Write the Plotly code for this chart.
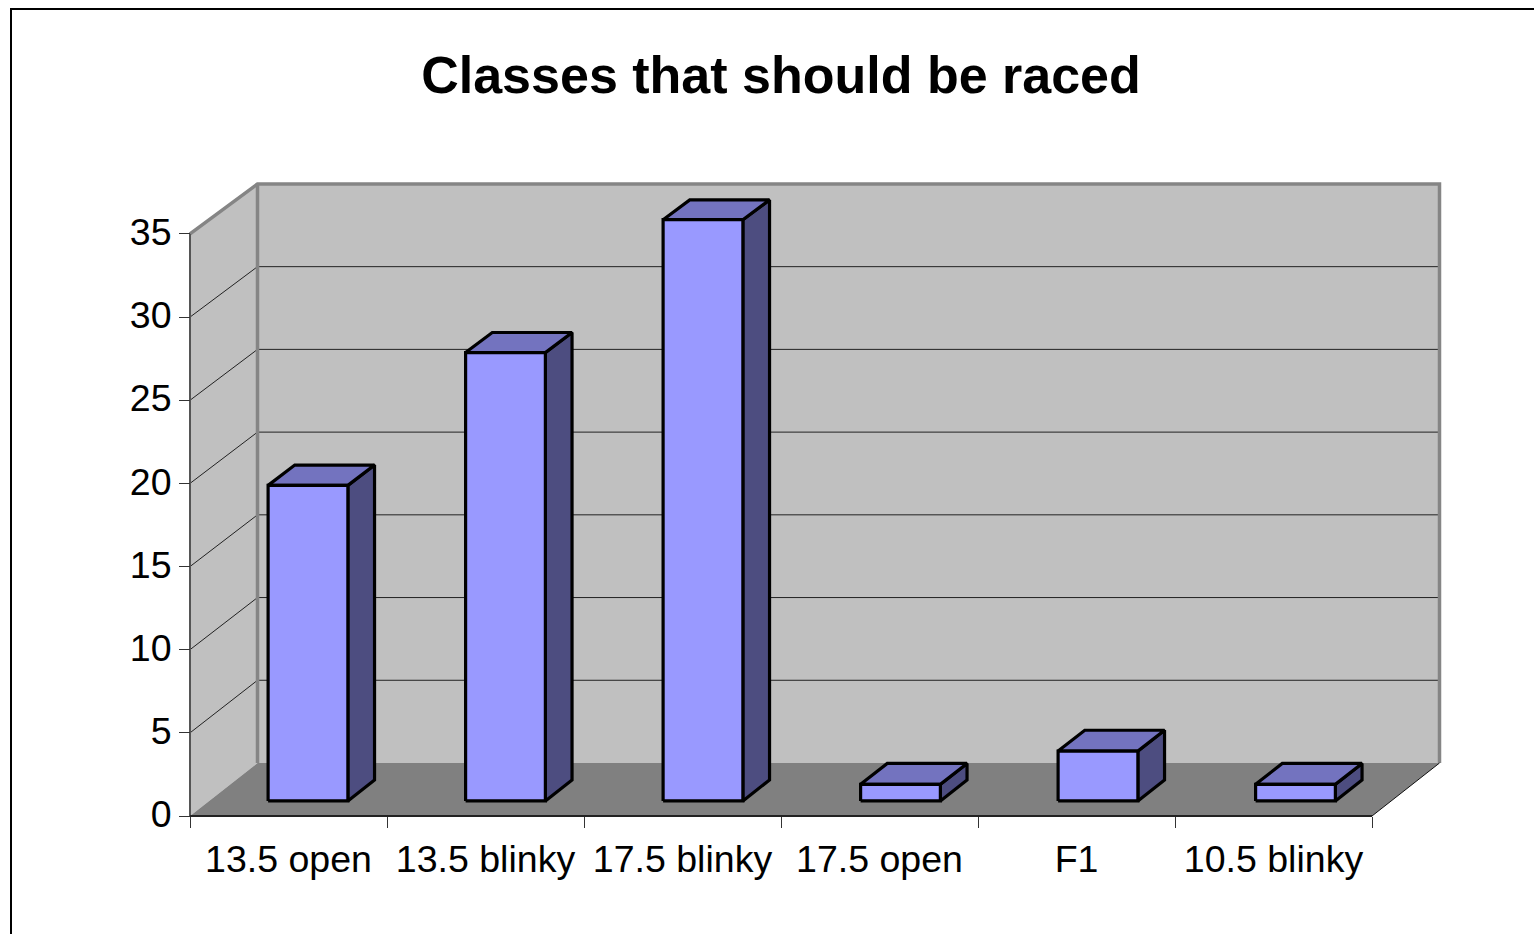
import plotly.graph_objects as go

categories = ["13.5 open", "13.5 blinky", "17.5 blinky", "17.5 open", "F1", "10.5 blinky"]
values = [19, 27, 35, 1, 3, 1]
y_ticks = [0, 5, 10, 15, 20, 25, 30, 35]
cat_ticks = [0, 1, 2, 3, 4, 5, 6]

W, H = 1534, 934
# front plane of the chart in pixels
left, bottom = 190, 816
cat_px = 197.0
val_px = 16.63
# depth of the 3d box
depth_x = 67.5 / cat_px
depth_y = 53 / val_px
back_scale = 579 / 582
right_px, top_px = 1440, 184
# spare room round the box so thick edge lines are not clipped
pad = 20

bar_half = 0.2025
bar_step = 197.5 / cat_px
bar_d0, bar_d1 = 0.285, 0.68


def xy(cat, val, d):
    x = cat + d * depth_x
    y = val * (1 - (1 - back_scale) * d) + d * depth_y
    return x, y


def poly(points, fill=None, line="black", width=1):
    xs = []
    ys = []
    for p in points:
        if p is None:
            xs.append(None)
            ys.append(None)
        else:
            x, y = xy(*p)
            xs.append(x)
            ys.append(y)
    tr = go.Scatter(x=xs, y=ys, mode="lines", hoverinfo="skip", showlegend=False,
                    line=dict(color=line, width=width))
    if fill:
        tr.fill = "toself"
        tr.fillcolor = fill
    return tr


n = len(categories)
vmax = y_ticks[-1]
fig = go.Figure()

# walls and floor
fig.add_trace(poly([(0, 0, 0), (0, vmax, 0), (0, vmax, 1), (0, 0, 1), (0, 0, 0)], fill="#c0c0c0", line="rgba(0,0,0,0)"))
fig.add_trace(poly([(0, 0, 1), (0, vmax, 1), (n, vmax, 1), (n, 0, 1), (0, 0, 1)], fill="#c0c0c0", line="rgba(0,0,0,0)"))
fig.add_trace(poly([(0, 0, 0), (n, 0, 0), (n, 0, 1), (0, 0, 1), (0, 0, 0)], fill="#808080", line="rgba(0,0,0,0)"))

# gridlines
grid = []
for v in y_ticks[1:-1]:
    grid += [(0, v, 0), (0, v, 1), (n, v, 1), None]
fig.add_trace(poly(grid, line="#222222", width=1))

# box edges
fig.add_trace(poly([(0, vmax, 0), (0, vmax, 1), (n, vmax, 1), (n, 0, 1), None, (0, vmax, 1), (0, 0, 1)], line="#858585", width=3.5))
fig.add_trace(poly([(n, 0, 0), (n, 0, 1)], line="#111111", width=1))
fig.add_trace(poly([(0, 0, 0), (0, vmax, 0)], line="#555555", width=2))
fig.add_trace(poly([(0, 0, 0), (n, 0, 0)], line="#222222", width=2))

# bars
for i, v in enumerate(values):
    a = (i + 0.5) * bar_step - bar_half
    b = (i + 0.5) * bar_step + bar_half
    fig.add_trace(poly([(b, 0, bar_d0), (b, 0, bar_d1), (b, v, bar_d1), (b, v, bar_d0), (b, 0, bar_d0)],
                       fill="#4d4d80", width=3.2))
    fig.add_trace(poly([(a, v, bar_d0), (a, v, bar_d1), (b, v, bar_d1), (b, v, bar_d0), (a, v, bar_d0)],
                       fill="#7373bf", width=3.2))
    fig.add_trace(poly([(a, 0, bar_d0), (a, v, bar_d0), (b, v, bar_d0), (b, 0, bar_d0), (a, 0, bar_d0)],
                       fill="#9999ff", width=3.2))

plot_left = left - pad
plot_right = right_px + pad
plot_top = top_px - pad
plot_bottom = bottom + pad
plot_w = plot_right - plot_left
plot_h = plot_bottom - plot_top

fig.update_layout(
    width=W,
    height=H,
    margin=dict(l=plot_left, r=W - plot_right, t=plot_top, b=H - plot_bottom, pad=0),
    paper_bgcolor="white",
    plot_bgcolor="rgba(0,0,0,0)",
    showlegend=False,
    font=dict(family="Liberation Sans, Arial, sans-serif", color="black"),
    title=dict(
        text="<b>Classes that should be raced</b>",
        x=781 / W,
        y=1 - 75 / H,
        xanchor="center",
        yanchor="middle",
        font=dict(size=52, color="black"),
    ),
    # outer chart frame, runs off the page on the right and bottom
    shapes=[dict(
        type="rect",
        xref="paper",
        yref="paper",
        x0=(11 - plot_left) / plot_w,
        x1=(W + 20 - plot_left) / plot_w,
        y0=(plot_bottom - H - 20) / plot_h,
        y1=(plot_bottom - 9) / plot_h,
        line=dict(color="#000000", width=2),
        layer="below",
    )],
)
fig.update_xaxes(
    range=[-pad / cat_px, (plot_right - left) / cat_px],
    anchor="free",
    position=pad / plot_h,
    tickmode="array",
    tickvals=[i + 0.5 for i in range(n)],
    ticktext=categories,
    ticks="outside",
    ticklen=10,
    tickcolor="rgba(0,0,0,0)",
    tickfont=dict(size=37.5),
    minor=dict(tickmode="array", tickvals=cat_ticks, ticks="outside", ticklen=11, tickcolor="#333333", tickwidth=1),
    showgrid=False,
    zeroline=False,
    showline=False,
)
fig.update_yaxes(
    range=[-pad / val_px, (bottom - plot_top) / val_px],
    anchor="free",
    position=pad / plot_w,
    tickmode="array",
    tickvals=y_ticks,
    ticks="outside",
    ticklen=11,
    tickcolor="#333333",
    tickwidth=1,
    tickfont=dict(size=37.5),
    ticklabelshift=-2,
    showgrid=False,
    zeroline=False,
    showline=False,
)

fig.write_html("out.html", config=dict(displayModeBar=False),
               post_script="document.body.style.margin='0';")
